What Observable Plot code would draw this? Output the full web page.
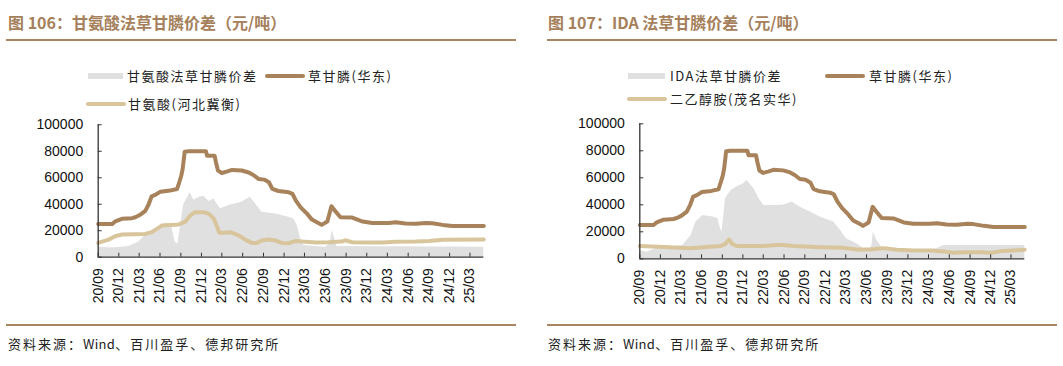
<!DOCTYPE html>
<html><head><meta charset="utf-8">
<script src="https://cdn.jsdelivr.net/npm/d3@7"></script>
<script src="https://cdn.jsdelivr.net/npm/@observablehq/plot@0.6"></script>
<style>
body{margin:0;background:#fff;width:1063px;height:366px;overflow:hidden;position:relative;font-family:"Noto Sans CJK SC",sans-serif;}
.abs{position:absolute;}
.title{font-size:16px;font-weight:bold;color:#a5805b;white-space:nowrap;line-height:20px;}
.leg{font-size:13px;color:#222;white-space:nowrap;letter-spacing:1.5px;line-height:16px;}
.src{font-size:13px;color:#222;white-space:nowrap;letter-spacing:2px;line-height:16px;}
.src span{letter-spacing:0.3px;}
</style></head><body>
<script>
// ---------- data ----------
const xTickDates = ["2020-09-01","2020-12-01","2021-03-01","2021-06-01","2021-09-01","2021-12-01","2022-03-01","2022-06-01","2022-09-01","2022-12-01","2023-03-01","2023-06-01","2023-09-01","2023-12-01","2024-03-01","2024-06-01","2024-09-01","2024-12-01","2025-03-01"];
const yTicks = [0, 20000, 40000, 60000, 80000, 100000];

// 草甘膦(华东)
const glyDates = ["2020-09-01","2020-11-01","2020-11-15","2020-12-15","2021-01-28","2021-02-12","2021-03-05","2021-03-28","2021-04-12","2021-04-25","2021-05-10","2021-06-03","2021-07-15","2021-08-15","2021-08-25","2021-09-03","2021-09-09","2021-09-18","2021-10-06","2021-12-21","2021-12-26","2022-01-28","2022-02-03","2022-02-12","2022-03-01","2022-03-22","2022-04-15","2022-05-28","2022-06-28","2022-07-18","2022-08-10","2022-09-04","2022-09-25","2022-10-10","2022-11-06","2022-12-22","2023-01-07","2023-01-22","2023-02-12","2023-03-13","2023-04-03","2023-05-01","2023-05-16","2023-06-10","2023-06-28","2023-07-13","2023-08-07","2023-09-28","2023-11-13","2023-12-25","2024-03-07","2024-04-07","2024-05-20","2024-07-04","2024-08-20","2024-09-15","2024-11-01","2024-12-13","2025-05-01"];
const glyValues = [25000,25000,27000,29000,29500,30200,32000,35000,40000,46000,47000,49500,50300,51500,56600,61600,66700,79700,80000,80000,76700,76700,71700,65400,63600,64600,65900,65500,64000,62100,59100,58600,56600,51600,50000,49000,47800,42800,37700,32700,28400,25900,24400,26900,38500,35200,30200,29900,26900,25900,25900,26400,25400,25200,25900,25700,24400,23600,23600];

// 甘氨酸(河北冀衡)
const glycineDates = ["2020-09-01","2020-09-18","2020-10-17","2020-11-15","2020-12-15","2021-03-28","2021-04-25","2021-05-18","2021-06-09","2021-08-22","2021-09-21","2021-10-12","2021-11-03","2021-12-11","2022-01-03","2022-01-25","2022-02-09","2022-02-18","2022-03-15","2022-04-06","2022-04-29","2022-05-21","2022-06-12","2022-07-12","2022-08-03","2022-08-25","2022-09-25","2022-10-25","2022-11-22","2022-12-22","2023-01-22","2023-02-19","2023-04-19","2023-06-16","2023-08-13","2023-08-28","2023-09-28","2023-11-13","2024-02-10","2024-04-07","2024-07-04","2024-09-01","2024-11-01","2025-05-01"];
const glycineValues = [10800,11800,13300,15800,17100,17600,18900,21400,23900,24700,26900,31400,34000,34000,32700,28900,22600,18400,18400,18900,17600,15800,13300,10800,10800,12600,13300,12600,10800,10600,12300,11800,11100,11300,11800,12800,11300,11100,11100,11600,11800,12300,13100,13300];

// 甘氨酸法草甘膦价差
const glySpreadDates = ["2020-09-01","2020-11-01","2021-01-14","2021-02-26","2021-03-28","2021-05-10","2021-06-10","2021-07-01","2021-07-24","2021-08-07","2021-08-19","2021-09-01","2021-09-14","2021-10-07","2021-10-13","2021-10-28","2021-11-19","2021-12-11","2022-01-04","2022-01-25","2022-02-09","2022-02-23","2022-04-01","2022-05-28","2022-07-04","2022-07-28","2022-08-25","2022-10-25","2022-12-22","2023-01-13","2023-01-28","2023-02-12","2023-02-26","2023-04-19","2023-06-01","2023-06-22","2023-07-01","2023-07-13","2023-07-22","2025-05-01"];
const glySpreadValues = [7500,7000,8000,11300,16400,20100,22600,26000,22000,11300,10000,25000,40000,47000,48600,43000,45000,46000,42000,44000,40000,36500,39000,41500,45300,40300,34000,32700,30200,28900,24000,14000,8800,8000,7500,10000,20100,14000,8000,7500];

// 二乙醇胺(茂名实华)
const deaDates = ["2020-09-01","2021-01-13","2021-04-13","2021-06-10","2021-08-24","2021-09-15","2021-10-01","2021-10-14","2021-11-06","2022-03-04","2022-05-13","2022-07-12","2022-11-07","2023-02-19","2023-04-19","2023-06-16","2023-08-16","2023-10-13","2023-12-28","2024-03-10","2024-05-07","2024-06-22","2024-08-04","2024-10-19","2024-12-04","2025-01-16","2025-03-13","2025-05-01"];
const deaValues = [9400,8600,7900,8600,9400,11100,14300,11100,9400,9400,10400,9400,8600,8100,6900,6900,7900,6700,6200,6200,5400,4400,4900,4900,4400,5700,6200,6700];

// IDA法草甘膦价差
const idaSpreadDates = ["2020-09-01","2020-10-01","2020-11-13","2021-01-13","2021-03-10","2021-04-16","2021-05-07","2021-06-07","2021-07-22","2021-08-13","2021-08-24","2021-08-30","2021-09-08","2021-09-15","2021-10-10","2021-11-03","2021-12-04","2021-12-19","2022-01-19","2022-02-11","2022-03-04","2022-05-02","2022-06-01","2022-07-07","2022-08-10","2022-09-25","2022-11-07","2023-01-07","2023-02-06","2023-03-04","2023-04-19","2023-05-19","2023-06-10","2023-06-25","2023-07-01","2023-07-16","2023-08-07","2023-09-16","2023-11-13","2024-01-25","2024-04-07","2024-05-07","2025-05-01"];
const idaSpreadValues = [6200,4900,7400,8600,9900,17300,27200,32100,30900,29600,22000,19800,32100,44400,50600,53100,55600,58000,51900,44400,39500,39500,39900,42000,38300,34600,30900,27200,21000,14800,11100,7400,4900,10000,19800,14000,8600,6200,4900,6200,7400,9900,9900];

// ---------- colors ----------
const BROWN = "#a8825a", TAN = "#d8c59c", GRAY = "#e0e0e0", AXIS = "#333";

const toRows = (dates, vals) => dates.map((d, i) => ({date: new Date(d), value: vals[i]}));
const xDomain = [new Date("2020-09-01"), new Date("2025-05-01")];
const xTicks = xTickDates.map(d => new Date(d));

function chart(o) {
  return Plot.plot({
    width: o.width, height: o.height,
    marginLeft: o.mL, marginRight: o.mR, marginTop: o.mT, marginBottom: o.mB,
    style: {fontFamily: "'Liberation Sans', Arial, sans-serif", fontSize: "14px", color: "#111", background: "transparent", overflow: "visible"},
    x: {type: "utc", domain: xDomain},
    y: {domain: [0, 100000]},
    marks: [
      Plot.areaY(o.area, {x: "date", y: "value", fill: GRAY}),
      ...o.lines.map(l => Plot.line(l.data, {x: "date", y: "value", stroke: l.color, strokeWidth: 4, strokeLinejoin: "round", strokeLinecap: "round"})),
      Plot.ruleY([0], {stroke: AXIS, strokeWidth: 1.3}),
      Plot.ruleX([xDomain[0]], {stroke: AXIS, strokeWidth: 1.3}),
      Plot.axisX({ticks: xTicks, tickFormat: d3.utcFormat("%y/%m"), tickRotate: -90, tickSize: -4, tickPadding: 15, label: null, stroke: AXIS}),
      Plot.axisY({ticks: yTicks, tickFormat: d3.format("d"), tickSize: -4, tickPadding: 19, label: null, stroke: AXIS})
    ]
  });
}

function place(el, x, y) { el.classList.add("abs"); el.style.left = x + "px"; el.style.top = y + "px"; document.body.appendChild(el); return el; }
function div(cls, text) { const d = document.createElement("div"); if (cls) d.className = cls; if (text) d.textContent = text; return d; }
function rect(x, y, w, h, color, r) { const d = div(); d.style.width = w + "px"; d.style.height = h + "px"; d.style.background = color; if (r) d.style.borderRadius = r + "px"; return place(d, x, y); }
function legText(x, cy, t) { return place(div("leg", t), x, cy - 8); }
function source(x, y) {
  const d = div("src");
  d.append("资料来源：");
  const s = document.createElement("span"); s.textContent = "Wind"; d.append(s);
  d.append("、百川盈孚、德邦研究所");
  return place(d, x, y);
}

// ---------- left panel ----------
place(div("title", "图 106：甘氨酸法草甘膦价差（元/吨）"), 8, 12);
rect(6, 39, 510, 2, "#a98562");
rect(88, 73, 35, 6, GRAY);
legText(127, 76, "甘氨酸法草甘膦价差");
rect(265, 74, 40, 4, BROWN, 2);
legText(308, 76, "草甘膦(华东)");
rect(86, 102, 40, 4, TAN, 2);
legText(128, 104, "甘氨酸(河北冀衡)");
const left = chart({width: 520, height: 195, mL: 97.7, mR: 36.7, mT: 9.3, mB: 53.3,
  area: toRows(glySpreadDates, glySpreadValues),
  lines: [{data: toRows(glycineDates, glycineValues), color: TAN}, {data: toRows(glyDates, glyValues), color: BROWN}]});
place(left, 0, 115);
rect(6, 324, 510, 2, "#a98562");
source(8, 336);

// ---------- right panel ----------
place(div("title", "图 107：IDA 法草甘膦价差（元/吨）"), 548, 12);
rect(547, 39, 510, 2, "#a98562");
rect(628, 73, 37, 6, GRAY);
legText(670, 76, "IDA法草甘膦价差");
rect(825, 74, 40, 4, BROWN, 2);
legText(869, 76, "草甘膦(华东)");
rect(627, 97, 40, 4, TAN, 2);
legText(670, 99, "二乙醇胺(茂名实华)");
const right = chart({width: 523, height: 195, mL: 99.3, mR: 38.7, mT: 8.3, mB: 51.7,
  area: toRows(idaSpreadDates, idaSpreadValues),
  lines: [{data: toRows(deaDates, deaValues), color: TAN}, {data: toRows(glyDates, glyValues), color: BROWN}]});
place(right, 540, 115);
rect(547, 324, 510, 2, "#a98562");
source(548, 336);
</script>
</body></html>
